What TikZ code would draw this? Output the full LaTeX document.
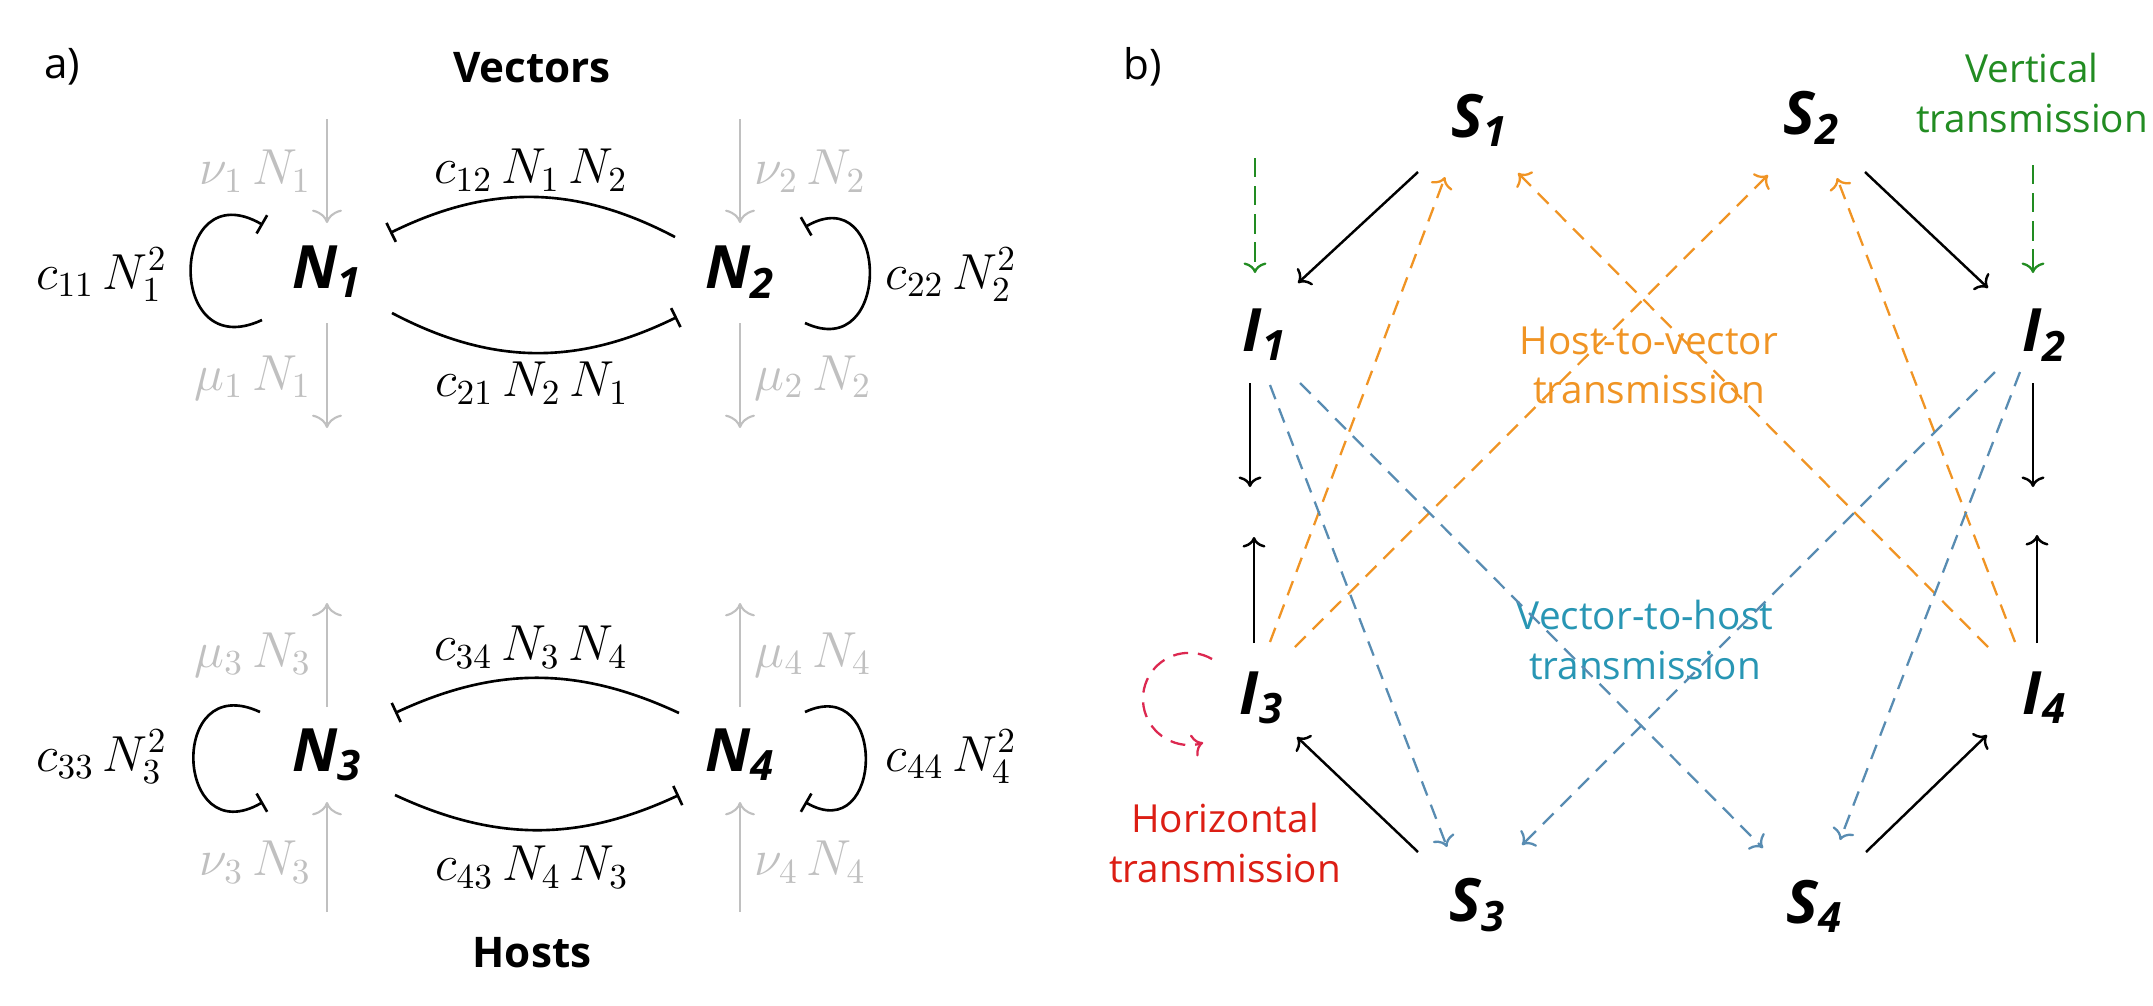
\documentclass[tikz,border=0pt]{standalone}
\usepackage[no-math]{fontspec}
\setmainfont{Open Sans}
\usetikzlibrary{arrows.meta}
\definecolor{lgray}{RGB}{192,192,192}
\definecolor{orng}{RGB}{240,148,36}
\definecolor{bline}{RGB}{88,140,178}
\definecolor{btext}{RGB}{40,150,180}
\definecolor{grn}{RGB}{34,140,34}
\definecolor{redt}{RGB}{220,30,20}
\definecolor{redl}{RGB}{220,40,80}
\tikzset{
  lab/.style={font=\fontsize{11}{14}\selectfont, align=center, inner sep=0pt},
  hdr/.style={font=\fontsize{12}{14}\selectfont\bfseries, inner sep=0pt},
  pnl/.style={font=\fontsize{12}{14}\selectfont, inner sep=0pt},
  var/.style={font=\fontsize{17}{20}\selectfont\bfseries\itshape, inner sep=0pt},
  mth/.style={font=\fontsize{14.5}{17}\selectfont, inner sep=0pt},
  gmth/.style={mth, text=lgray},
  garr/.style={draw=lgray, line width=0.6pt, -{To[length=3.8pt,width=8.5pt]}},
  inh/.style={line width=0.75pt, -{Bar[width=6pt]}},
  blk/.style={line width=0.7pt, -{To[length=3pt,width=6.5pt]}},
  dsh/.style={line width=0.65pt, dash pattern=on 4.3pt off 2.8pt, -{To[length=3pt,width=6.5pt]}},
  odsh/.style={dsh, draw=orng},
  bdsh/.style={dsh, draw=bline},
  gdsh/.style={line width=0.65pt, draw=grn, dash pattern=on 5.5pt off 2.5pt, -{To[length=3pt,width=6.5pt]}},
  rdsh/.style={dsh, draw=redl}
}
\begin{document}
\begin{tikzpicture}[x=0.01cm,y=0.01cm]
\useasboundingbox (0,0) rectangle (2153,-1005);
% ---------------- panel a ----------------
\node[pnl] (pa) at (62,-67) {a)};
\node[hdr] (vec) at (532,-68) {Vectors};
\node[hdr] (hst) at (532,-953) {Hosts};
\node[var] (N1) at (327,-272) {N\textsubscript{1}};
\node[var] (N2) at (740,-272) {N\textsubscript{2}};
\node[var] (N3) at (327,-755) {N\textsubscript{3}};
\node[var] (N4) at (740,-755) {N\textsubscript{4}};
% gray in/out flows
\coordinate (n1in) at (327,-119);
\coordinate (n1out) at (327,-428);
\coordinate (n2in) at (740,-119);
\coordinate (n2out) at (740,-428);
\coordinate (n3out) at (327,-603);
\coordinate (n3in) at (327,-912);
\coordinate (n4out) at (740,-603);
\coordinate (n4in) at (740,-912);
\draw[garr] (n1in) -- ([shift={(0,49)}]N1.center);
\draw[garr] ([shift={(0,-51)}]N1.center) -- (n1out);
\draw[garr] (n2in) -- ([shift={(0,49)}]N2.center);
\draw[garr] ([shift={(0,-51)}]N2.center) -- (n2out);
\draw[garr] ([shift={(0,48)}]N3.center) -- (n3out);
\draw[garr] (n3in) -- ([shift={(0,-47)}]N3.center);
\draw[garr] ([shift={(0,48)}]N4.center) -- (n4out);
\draw[garr] (n4in) -- ([shift={(0,-47)}]N4.center);
\node[gmth, anchor=east] (lnu1) at (312,-171) {$\nu_1\, N_1$};
\node[gmth, anchor=east] (lmu1) at (312,-378) {$\mu_1\, N_1$};
\node[gmth, anchor=west] (lnu2) at (754,-171) {$\nu_2\, N_2$};
\node[gmth, anchor=west] (lmu2) at (754,-378) {$\mu_2\, N_2$};
\node[gmth, anchor=east] (lmu3) at (312,-655) {$\mu_3\, N_3$};
\node[gmth, anchor=east] (lnu3) at (312,-862) {$\nu_3\, N_3$};
\node[gmth, anchor=west] (lmu4) at (754,-655) {$\mu_4\, N_4$};
\node[gmth, anchor=west] (lnu4) at (754,-862) {$\nu_4\, N_4$};
% competition arcs
\draw[inh] ([shift={(-65,35)}]N2.center) to[bend right=27] ([shift={(63,39)}]N1.center);
\draw[inh] ([shift={(65,-41)}]N1.center) to[bend right=27] ([shift={(-63,-45)}]N2.center);
\draw[inh] ([shift={(-61,42)}]N4.center) to[bend right=25] ([shift={(68,42)}]N3.center);
\draw[inh] ([shift={(68,-40)}]N3.center) to[bend right=25] ([shift={(-61,-40)}]N4.center);
% self loops
\draw[inh] ([shift={(-65,-48)}]N1.center) to[out=205,in=150,looseness=2.9] ([shift={(-64,47)}]N1.center);
\draw[inh] ([shift={(65,-51)}]N2.center) to[out=-25,in=30,looseness=2.6] ([shift={(65,45)}]N2.center);
\draw[inh] ([shift={(-67,43)}]N3.center) to[out=155,in=210,looseness=2.9] ([shift={(-64,-47)}]N3.center);
\draw[inh] ([shift={(65,43)}]N4.center) to[out=25,in=-30,looseness=2.6] ([shift={(65,-47)}]N4.center);
\node[mth, anchor=east] (c11) at (168,-275) {$c_{11}\, N_1^2$};
\node[mth, anchor=west] (c22) at (885,-275) {$c_{22}\, N_2^2$};
\node[mth, anchor=east] (c33) at (168,-757) {$c_{33}\, N_3^2$};
\node[mth, anchor=west] (c44) at (885,-757) {$c_{44}\, N_4^2$};
\node[mth] (c12) at (531,-170) {$c_{12}\, N_1\, N_2$};
\node[mth] (c21) at (532,-383) {$c_{21}\, N_2\, N_1$};
\node[mth] (c34) at (531,-647) {$c_{34}\, N_3\, N_4$};
\node[mth] (c43) at (532,-867) {$c_{43}\, N_4\, N_3$};
% ---------------- panel b ----------------
\node[pnl] (pb) at (1143,-67) {b)};
\node[var] (S1) at (1480,-120) {S\textsubscript{1}};
\node[var] (S2) at (1812,-118) {S\textsubscript{2}};
\node[var] (I1) at (1265,-335) {I\textsubscript{1}};
\node[var] (I2) at (2045,-335) {I\textsubscript{2}};
\node[var] (I3) at (1262,-698) {I\textsubscript{3}};
\node[var] (I4) at (2045,-698) {I\textsubscript{4}};
\node[var] (S3) at (1478,-905) {S\textsubscript{3}};
\node[var] (S4) at (1815,-906) {S\textsubscript{4}};
\node[lab, text=orng] (htv) at (1649,-365) {Host-to-vector\\transmission};
\node[lab, text=btext] (vth) at (1645,-640) {Vector-to-host\\transmission};
\node[lab, text=grn] (vt) at (2032,-93) {Vertical\\transmission};
\node[lab, text=redt] (ht) at (1225,-843) {Horizontal\\transmission};
% infection arrows
\draw[blk] ([shift={(-62,-52)}]S1.center) -- ([shift={(33,52)}]I1.center);
\draw[blk] ([shift={(53,-54)}]S2.center) -- ([shift={(-57,47)}]I2.center);
\draw[blk] ([shift={(-60,53)}]S3.center) -- ([shift={(35,-39)}]I3.center);
\draw[blk] ([shift={(51,54)}]S4.center) -- ([shift={(-58,-37)}]I4.center);
\coordinate (d1) at (1250,-487);
\coordinate (u3) at (1254,-537);
\coordinate (d2) at (2033,-487);
\coordinate (u4) at (2037,-535);
\draw[blk] ([shift={(-15,-48)}]I1.center) -- (d1);
\draw[blk] ([shift={(-8,55)}]I3.center) -- (u3);
\draw[blk] ([shift={(-12,-48)}]I2.center) -- (d2);
\draw[blk] ([shift={(-8,55)}]I4.center) -- (u4);
% vertical transmission
\coordinate (g1) at (1255,-158);
\draw[gdsh] (g1) -- ([shift={(-10,62)}]I1.center);
\draw[gdsh] ([shift={(1,-72)}]vt.center) -- ([shift={(-12,62)}]I2.center);
% host-to-vector
\draw[odsh] ([shift={(8,56)}]I3.center) -- ([shift={(-35,-57)}]S1.center);
\draw[odsh] ([shift={(33,51)}]I3.center) -- ([shift={(-44,-57)}]S2.center);
\draw[odsh] ([shift={(-57,51)}]I4.center) -- ([shift={(38,-53)}]S1.center);
\draw[odsh] ([shift={(-30,56)}]I4.center) -- ([shift={(25,-60)}]S2.center);
% vector-to-host
\draw[bdsh] ([shift={(5,-50)}]I1.center) -- ([shift={(-31,58)}]S3.center);
\draw[bdsh] ([shift={(35,-48)}]I1.center) -- ([shift={(-52,58)}]S4.center);
\draw[bdsh] ([shift={(-50,-37)}]I2.center) -- ([shift={(44,60)}]S3.center);
\draw[bdsh] ([shift={(-25,-37)}]I2.center) -- ([shift={(25,66)}]S4.center);
% horizontal transmission
\draw[rdsh] ([shift={(-50,39)}]I3.center) arc[start angle=60, end angle=288, radius=0.46cm];
\end{tikzpicture}
\end{document}
